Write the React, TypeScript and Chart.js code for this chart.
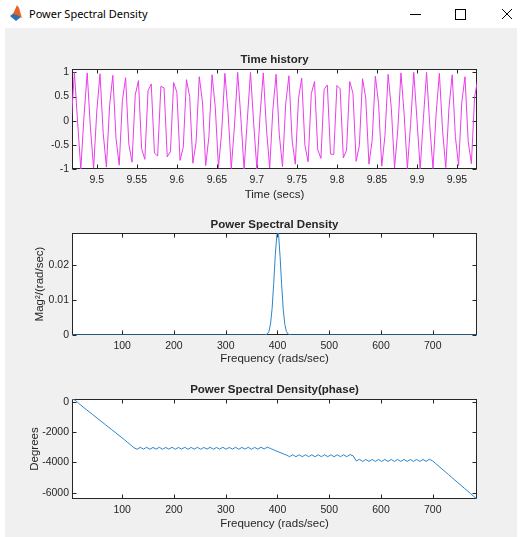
import React, { useEffect, useRef } from 'react';
import { Chart, registerables } from 'chart.js';

Chart.register(...registerables);

const FONT = '"Liberation Sans", Arial, Helvetica, sans-serif';
const AXIS_COLOR = '#262626';

// ---------------- Time history ----------------
const timeSec = [
  9.468, 9.472, 9.476, 9.480, 9.484, 9.488, 9.492, 9.496, 9.500, 9.504,
  9.508, 9.512, 9.516, 9.520, 9.524, 9.528, 9.532, 9.536, 9.540, 9.544,
  9.548, 9.552, 9.556, 9.560, 9.564, 9.568, 9.572, 9.576, 9.580, 9.584,
  9.588, 9.592, 9.596, 9.600, 9.604, 9.608, 9.612, 9.616, 9.620, 9.624,
  9.628, 9.632, 9.636, 9.640, 9.644, 9.648, 9.652, 9.656, 9.660, 9.664,
  9.668, 9.672, 9.676, 9.680, 9.684, 9.688, 9.692, 9.696, 9.700, 9.704,
  9.708, 9.712, 9.716, 9.720, 9.724, 9.728, 9.732, 9.736, 9.740, 9.744,
  9.748, 9.752, 9.756, 9.760, 9.764, 9.768, 9.772, 9.776, 9.780, 9.784,
  9.788, 9.792, 9.796, 9.800, 9.804, 9.808, 9.812, 9.816, 9.820, 9.824,
  9.828, 9.832, 9.836, 9.840, 9.844, 9.848, 9.852, 9.856, 9.860, 9.864,
  9.868, 9.872, 9.876, 9.880, 9.884, 9.888, 9.892, 9.896, 9.900, 9.904,
  9.908, 9.912, 9.916, 9.920, 9.924, 9.928, 9.932, 9.936, 9.940, 9.944,
  9.948, 9.952, 9.956, 9.960, 9.964, 9.968, 9.972, 9.976,
];
const signal = [
  -0.03, 1.00, -0.03, -1.00, 0.09, 0.99, -0.15, -0.98, 0.20, 0.97,
  -0.26, -0.96, 0.32, 0.94, -0.37, -0.92, 0.42, 0.89, -0.48, -0.86,
  0.53, 0.83, -0.58, -0.80, 0.62, 0.76, -0.67, -0.73, 0.71, 0.68,
  -0.75, -0.64, 0.79, 0.59, -0.82, -0.55, 0.85, 0.50, -0.88, -0.45,
  0.91, 0.39, -0.93, -0.34, 0.95, 0.28, -0.97, -0.23, 0.98, 0.17,
  -0.99, -0.11, 1.00, 0.05, -1.00, 0.01, 1.00, -0.06, -1.00, 0.12,
  0.99, -0.18, -0.98, 0.24, 0.96, -0.29, -0.95, 0.35, 0.93, -0.40,
  -0.90, 0.46, 0.88, -0.51, -0.85, 0.56, 0.81, -0.60, -0.78, 0.65,
  0.74, -0.69, -0.70, 0.73, 0.66, -0.77, -0.61, 0.81, 0.57, -0.84,
  -0.52, 0.87, 0.47, -0.90, -0.41, 0.92, 0.36, -0.94, -0.31, 0.96,
  0.25, -0.98, -0.19, 0.99, 0.13, -0.99, -0.08, 1.00, 0.02, -1.00,
  0.04, 1.00, -0.10, -0.99, 0.16, 0.98, -0.21, -0.97, 0.27, 0.95,
  -0.33, -0.93, 0.38, 0.91, -0.43, -0.89, 0.49, 0.86,
];
const timeTicks = [9.5, 9.55, 9.6, 9.65, 9.7, 9.75, 9.8, 9.85, 9.9, 9.95];
const timeTickLabels = ['9.5', '9.55', '9.6', '9.65', '9.7', '9.75', '9.8', '9.85', '9.9', '9.95'];
const ampTicks = [-1, -0.5, 0, 0.5, 1];
const ampTickLabels = ['-1', '-0.5', '0', '0.5', '1'];

// ---------------- Power spectral density ----------------
const psdFreq = [
  3.07, 371.2, 374.3, 377.4, 380.4, 383.5, 386.6, 389.6, 392.7, 395.8,
  398.8, 401.9, 405.0, 408.0, 411.1, 414.2, 417.2, 420.3, 423.4, 426.5, 785.4,
];
const psdMag = [
  0, 0, 0, 0.0001, 0.0003, 0.0010, 0.0032, 0.0076, 0.0148, 0.0230,
  0.0288, 0.0293, 0.0226, 0.0145, 0.0074, 0.0030, 0.0010, 0.0003, 0.0001, 0, 0,
];
const freqTicks = [100, 200, 300, 400, 500, 600, 700];
const freqTickLabels = ['100', '200', '300', '400', '500', '600', '700'];
const psdTicks = [0, 0.01, 0.02];
const psdTickLabels = ['0', '0.01', '0.02'];

// ---------------- Phase ----------------
const phaseFreq = [
  3.07, 6.14, 9.20, 12.27, 15.34, 18.41, 30.68, 42.95, 55.22, 67.50,
  79.77, 92.04, 104.31, 110.45, 116.58, 122.72, 128.86, 134.99, 141.13, 147.26,
  153.40, 159.54, 165.67, 171.81, 177.94, 184.08, 190.22, 196.35, 202.49, 208.62,
  214.76, 220.89, 227.03, 233.17, 239.30, 245.44, 251.57, 257.71, 263.85, 269.98,
  276.12, 282.25, 288.39, 294.52, 300.66, 306.80, 312.93, 319.07, 325.20, 331.34,
  337.48, 343.61, 349.75, 355.88, 362.02, 368.16, 374.29, 380.43, 386.56, 392.70,
  398.83, 404.97, 411.11, 417.24, 423.38, 429.51, 435.65, 441.79, 447.92, 454.06,
  460.19, 466.33, 472.47, 478.60, 484.74, 490.87, 497.01, 503.15, 509.28, 515.42,
  521.55, 527.69, 533.83, 539.96, 546.10, 552.23, 558.37, 564.50, 570.64, 576.78,
  582.91, 589.05, 595.18, 601.32, 607.46, 613.59, 619.73, 625.86, 632.00, 638.14,
  644.27, 650.41, 656.54, 662.68, 668.82, 674.95, 681.09, 687.22, 693.36, 699.50,
  705.63, 711.77, 717.90, 724.04, 730.18, 736.31, 742.45, 748.58, 754.72, 760.86,
  767.00, 773.13, 779.27, 785.40,
];
const phaseDeg = [
  170, 150, 95, 10, -85, -185, -520, -850, -1180, -1510,
  -1840, -2170, -2500, -2680, -2850, -3030, -3130, -3000, -3120, -3000,
  -3130, -3010, -3120, -3000, -3130, -3010, -3120, -3000, -3130, -3010,
  -3120, -3000, -3130, -3010, -3120, -3000, -3130, -3010, -3120, -3000,
  -3130, -3010, -3120, -3000, -3130, -3010, -3120, -3000, -3130, -3010,
  -3120, -3000, -3130, -3010, -3120, -3000, -3110, -2990, -3080, -3170,
  -3260, -3340, -3430, -3510, -3620, -3490, -3620, -3490, -3620, -3490,
  -3620, -3490, -3620, -3490, -3620, -3490, -3620, -3490, -3620, -3490,
  -3620, -3490, -3620, -3480, -3560, -3900, -3790, -3930, -3800, -3930,
  -3800, -3930, -3800, -3930, -3800, -3930, -3800, -3930, -3800, -3930,
  -3800, -3930, -3800, -3930, -3800, -3930, -3800, -3930, -3790, -3890,
  -4070, -4250, -4430, -4610, -4790, -4970, -5150, -5330, -5510, -5690,
  -5870, -6050, -6230, -6400,
];
const degTicks = [-6000, -4000, -2000, 0];
const degTickLabels = ['-6000', '-4000', '-2000', '0'];

// MATLAB-like axes box with inward ticks on all four sides
const matlabAxes = {
  id: 'matlabAxes',
  beforeDatasetsDraw(chart: any) {
    const { ctx, chartArea: a, scales } = chart;
    const L = Math.round(a.left) + 0.5;
    const R = Math.round(a.right) - 0.5;
    const T = Math.round(a.top) + 0.5;
    const B = Math.round(a.bottom) - 0.5;
    ctx.save();
    ctx.fillStyle = '#ffffff';
    ctx.fillRect(a.left, a.top, a.right - a.left, a.bottom - a.top);
    ctx.strokeStyle = AXIS_COLOR;
    ctx.lineWidth = 1;
    ctx.strokeRect(L, T, R - L, B - T);
    ctx.beginPath();
    const tl = 4;
    scales.x.ticks.forEach((t: any) => {
      const px = Math.round(scales.x.getPixelForValue(t.value)) + 0.5;
      ctx.moveTo(px, B); ctx.lineTo(px, B - tl);
      ctx.moveTo(px, T); ctx.lineTo(px, T + tl);
    });
    scales.y.ticks.forEach((t: any) => {
      const py = Math.round(scales.y.getPixelForValue(t.value)) + 0.5;
      ctx.moveTo(L, py); ctx.lineTo(L + tl, py);
      ctx.moveTo(R, py); ctx.lineTo(R - tl, py);
    });
    ctx.stroke();
    ctx.restore();
  },
};

type PlotProps = {
  top: number;
  plotH: number;
  title: string;
  titlePadTop: number;
  xs: number[];
  ys: number[];
  color: string;
  xMin: number; xMax: number;
  yMin: number; yMax: number;
  xTicks: number[]; xTickLabels: string[];
  yTicks: number[]; yTickLabels: string[];
  xLabel: string;
  xTickPad: number;
  xTitlePadBottom: number;
  yLabel?: string;
  yTitlePadTop?: number;
};

const TITLE_BLOCK = 29;
const XAXIS_H = 36;
const YAXIS_W = 72;
const CANVAS_W = 522;

function Plot(p: PlotProps) {
  const ref = useRef<HTMLCanvasElement>(null);
  const height = TITLE_BLOCK + p.plotH + XAXIS_H;
  useEffect(() => {
    const titleLine = 11.5 * 1.2;
    const chart = new Chart(ref.current as HTMLCanvasElement, {
      type: 'line',
      data: {
        datasets: [
          {
            data: p.xs.map((x, i) => ({ x, y: p.ys[i] })),
            borderColor: p.color,
            borderWidth: 1,
            pointRadius: 0,
            tension: 0,
            fill: false,
          },
        ],
      },
      options: {
        responsive: false,
        animation: false,
        events: [],
        layout: { padding: { left: 0, right: CANVAS_W - 477, top: 0, bottom: 0 } },
        plugins: {
          legend: { display: false },
          tooltip: { enabled: false },
          title: {
            display: true,
            text: p.title,
            fullSize: false,
            color: AXIS_COLOR,
            font: { family: FONT, size: 11.5, weight: 'bold', lineHeight: 1.2 },
            padding: { top: p.titlePadTop, bottom: TITLE_BLOCK - p.titlePadTop - titleLine },
          },
        },
        scales: {
          x: {
            type: 'linear',
            min: p.xMin,
            max: p.xMax,
            grid: { display: false, drawTicks: false },
            border: { display: false },
            afterBuildTicks: (s: any) => { s.ticks = p.xTicks.map((v) => ({ value: v })); },
            afterFit: (s: any) => { s.height = XAXIS_H; },
            ticks: {
              color: AXIS_COLOR,
              font: { family: FONT, size: 10.5, lineHeight: 1.2 },
              padding: p.xTickPad,
              maxRotation: 0,
              autoSkip: false,
              callback: (_v: any, i: number) => p.xTickLabels[i],
            },
            title: {
              display: true,
              text: p.xLabel,
              color: AXIS_COLOR,
              font: { family: FONT, size: 11.5, lineHeight: 1.2 },
              padding: { top: 0, bottom: p.xTitlePadBottom },
            },
          },
          y: {
            type: 'linear',
            min: p.yMin,
            max: p.yMax,
            grid: { display: false, drawTicks: false },
            border: { display: false },
            afterBuildTicks: (s: any) => { s.ticks = p.yTicks.map((v) => ({ value: v })); },
            afterFit: (s: any) => { s.width = YAXIS_W; },
            ticks: {
              color: AXIS_COLOR,
              font: { family: FONT, size: 10.5, lineHeight: 1.2 },
              padding: 3,
              autoSkip: false,
              callback: (_v: any, i: number) => p.yTickLabels[i],
            },
            title: {
              display: !!p.yLabel,
              text: p.yLabel || '',
              color: AXIS_COLOR,
              font: { family: FONT, size: 11.5, lineHeight: 1.2 },
              padding: { top: p.yTitlePadTop || 0, bottom: 0 },
            },
          },
        },
      } as any,
      plugins: [matlabAxes],
    });
    return () => chart.destroy();
  }, []);
  return (
    <canvas
      ref={ref}
      width={CANVAS_W}
      height={height}
      style={{ position: 'absolute', left: 0, top: p.top, width: CANVAS_W, height, display: 'block' }}
    />
  );
}

function TitleBar() {
  return (
    <div style={{ position: 'absolute', left: 0, top: 0, width: 522, height: 28, background: '#ffffff' }}>
      <svg width={522} height={28} style={{ position: 'absolute', left: 0, top: 0 }}>
        <polygon points="10,16 15,12 21,17 16,21" fill="#2f6fb3" />
        <polygon points="13,14 17,5 22,18 17,15" fill="#e8641e" />
        <polygon points="17,5 19,8 22,18" fill="#c2361a" />
        <line x1={410} y1={14.5} x2={421} y2={14.5} stroke="#000" strokeWidth={1} />
        <rect x={455.5} y={9.5} width={10} height={10} fill="none" stroke="#000" strokeWidth={1} />
        <line x1={502} y1={9} x2={512} y2={19} stroke="#000" strokeWidth={1} />
        <line x1={512} y1={9} x2={502} y2={19} stroke="#000" strokeWidth={1} />
      </svg>
      <div
        style={{
          position: 'absolute', left: 29, top: 5, fontFamily: '"Noto Sans", "Open Sans", sans-serif',
          fontSize: 11, lineHeight: '18px', color: '#000', whiteSpace: 'nowrap',
        }}
      >
        Power Spectral Density
      </div>
    </div>
  );
}

export default function App() {
  return (
    <div style={{ position: 'fixed', left: 0, top: 0, width: 522, height: 537, background: '#ffffff', overflow: 'hidden' }}>
      <TitleBar />
      <div style={{ position: 'absolute', left: 5, top: 28, width: 512, height: 509, background: '#f0f0f0' }} />
      <Plot
        top={40}
        plotH={100}
        title="Time history"
        titlePadTop={13.1}
        xs={timeSec}
        ys={signal}
        color="#ea3dea"
        xMin={9.469}
        xMax={9.975}
        yMin={-1.0}
        yMax={1.07}
        xTicks={timeTicks}
        xTickLabels={timeTickLabels}
        yTicks={ampTicks}
        yTickLabels={ampTickLabels}
        xLabel="Time (secs)"
        xTickPad={5}
        xTitlePadBottom={3.1}
      />
      <Plot
        top={204}
        plotH={102}
        title="Power Spectral Density"
        titlePadTop={14.1}
        xs={psdFreq}
        ys={psdMag}
        color="#2a86cb"
        xMin={3.07}
        xMax={785.4}
        yMin={0}
        yMax={0.0293}
        xTicks={freqTicks}
        xTickLabels={freqTickLabels}
        yTicks={psdTicks}
        yTickLabels={psdTickLabels}
        xLabel="Frequency (rads/sec)"
        xTickPad={4.4}
        xTitlePadBottom={4.8}
        yLabel="Mag²/(rad/sec)"
        yTitlePadTop={33.1}
      />
      <Plot
        top={370}
        plotH={100}
        title="Power Spectral Density(phase)"
        titlePadTop={13.1}
        xs={phaseFreq}
        ys={phaseDeg}
        color="#2a86cb"
        xMin={3.07}
        xMax={785.4}
        yMin={-6400}
        yMax={175}
        xTicks={freqTicks}
        xTickLabels={freqTickLabels}
        yTicks={degTicks}
        yTickLabels={degTickLabels}
        xLabel="Frequency (rads/sec)"
        xTickPad={4.4}
        xTitlePadBottom={4.4}
        yLabel="Degrees"
        yTitlePadTop={28.1}
      />
    </div>
  );
}
